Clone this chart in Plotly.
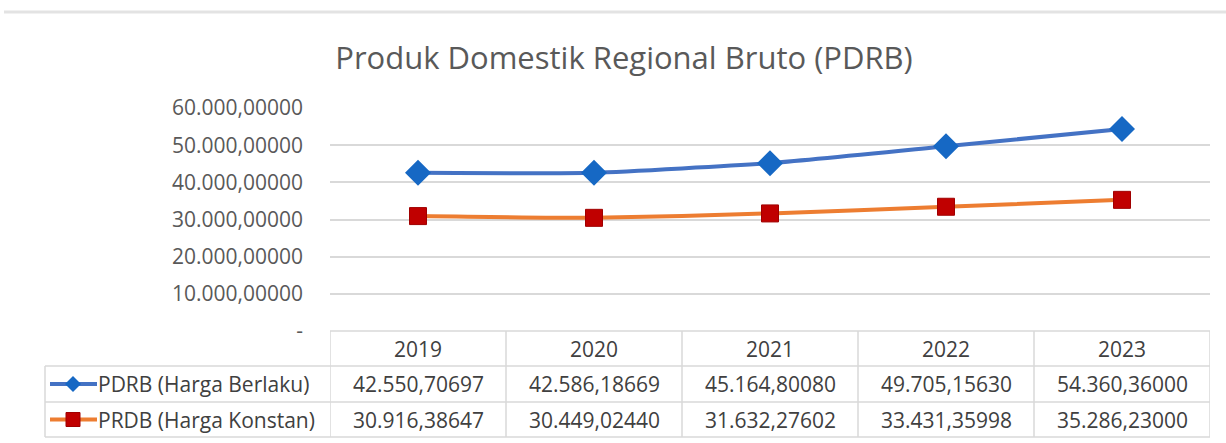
import plotly.graph_objects as go

years = ["2019", "2020", "2021", "2022", "2023"]
berlaku = [42550.70697, 42586.18669, 45164.80080, 49705.15630, 54360.36000]
konstan = [30916.38647, 30449.02440, 31632.27602, 33431.35998, 35286.23000]
series_names = ["PDRB (Harga Berlaku)", "PRDB (Harga Konstan)"]
tick_vals = [0, 10000, 20000, 30000, 40000, 50000, 60000]
tick_text = ["-", "10.000,00000", "20.000,00000", "30.000,00000",
             "40.000,00000", "50.000,00000", "60.000,00000"]
title = "Produk Domestik Regional Bruto (PDRB)"

W, H = 1226, 443
L, R, T, B = 330, 1210, 108, 331
FONT = "Open Sans"
FS = 21
TXT = "#404040"
GRID = "#d9d9d9"
BLUE_LINE, BLUE_MK = "#4472C4", "#1668C4"
ORANGE_LINE, RED_MK = "#ED7D31", "#C00000"


def fmt(v):
    s = f"{v:,.5f}"
    return s.replace(",", "X").replace(".", ",").replace("X", ".")


def py(p):
    return (B - p) / (B - T)


def px(p):
    return (p - L) / (R - L)


xs = list(range(len(years)))
fig = go.Figure()
fig.add_trace(go.Scatter(x=xs, y=berlaku, mode="lines+markers", name=series_names[0],
                         line=dict(color=BLUE_LINE, width=4, shape="spline", smoothing=0.5),
                         marker=dict(symbol="diamond", size=20, color=BLUE_MK)))
fig.add_trace(go.Scatter(x=xs, y=konstan, mode="lines+markers", name=series_names[1],
                         line=dict(color=ORANGE_LINE, width=4, shape="spline", smoothing=0.5),
                         marker=dict(symbol="square", size=17, color=RED_MK,
                                     line=dict(color="#A00000", width=1))))

shapes = []
anns = []
shapes.append(dict(type="line", xref="paper", yref="paper", x0=px(4), x1=px(1226),
                   y0=py(12), y1=py(12), line=dict(color="#e3e3e3", width=3)))

rows = [331, 366, 402, 437]
lc = 45
shapes.append(dict(type="line", xref="x", yref="paper", x0=-0.5, x1=4.5, y0=py(rows[0]), y1=py(rows[0]),
                   line=dict(color=GRID, width=1.5)))
for r in rows[1:]:
    shapes.append(dict(type="line", xref="paper", yref="paper", x0=px(lc), x1=1, y0=py(r), y1=py(r),
                       line=dict(color=GRID, width=1.5)))
for i in range(len(years) + 1):
    shapes.append(dict(type="line", xref="x", yref="paper", x0=i - 0.5, x1=i - 0.5,
                       y0=py(rows[0]), y1=py(rows[3]), line=dict(color=GRID, width=1.5)))
shapes.append(dict(type="line", xref="paper", yref="paper", x0=px(lc), x1=px(lc),
                   y0=py(rows[1]), y1=py(rows[3]), line=dict(color=GRID, width=1.5)))

for i, yv in enumerate(years):
    anns.append(dict(x=i, y=py((rows[0] + rows[1]) / 2), xref="x", yref="paper", text=yv,
                     xanchor="center", yanchor="middle",
                     showarrow=False, font=dict(family=FONT, size=FS, color=TXT)))
for ri, vals in enumerate([berlaku, konstan]):
    yc = py((rows[ri + 1] + rows[ri + 2]) / 2)
    for i, v in enumerate(vals):
        anns.append(dict(x=i, y=yc, xref="x", yref="paper", text=fmt(v),
                         xanchor="center", yanchor="middle",
                         showarrow=False, font=dict(family=FONT, size=FS, color=TXT)))
    anns.append(dict(x=px(96), y=yc, xref="paper", yref="paper", text=series_names[ri],
                     xanchor="left", yanchor="middle", showarrow=False,
                     font=dict(family=FONT, size=FS, color=TXT)))

ky1 = (rows[1] + rows[2]) / 2
ky2 = (rows[2] + rows[3]) / 2
shapes.append(dict(type="line", xref="paper", yref="paper", x0=px(50), x1=px(97), y0=py(ky1), y1=py(ky1),
                   line=dict(color=BLUE_LINE, width=4)))
shapes.append(dict(type="path", xref="paper", yref="paper",
                   path=f"M {px(65)} {py(ky1)} L {px(73)} {py(ky1-8)} L {px(81)} {py(ky1)} L {px(73)} {py(ky1+8)} Z",
                   fillcolor=BLUE_MK, line=dict(color=BLUE_MK, width=0)))
shapes.append(dict(type="line", xref="paper", yref="paper", x0=px(50), x1=px(97), y0=py(ky2), y1=py(ky2),
                   line=dict(color=ORANGE_LINE, width=4)))
shapes.append(dict(type="rect", xref="paper", yref="paper", x0=px(66), x1=px(80), y0=py(ky2 - 7), y1=py(ky2 + 7),
                   fillcolor=RED_MK, line=dict(color="#A00000", width=1)))

fig.update_layout(
    width=W, height=H,
    margin=dict(l=L, r=W - R, t=T, b=H - B),
    paper_bgcolor="white", plot_bgcolor="white",
    showlegend=False,
    title=dict(text=title, xref="container", yref="container", x=624 / W, xanchor="center",
               y=1 - 58 / H, yanchor="middle",
               font=dict(family=FONT, size=31, color="#595959")),
    xaxis=dict(range=[-0.5, 4.5], showticklabels=False, showgrid=False, zeroline=False,
               showline=False, ticks="", fixedrange=True),
    yaxis=dict(range=[0, 60000], tickvals=tick_vals, ticktext=tick_text, showgrid=True,
               gridcolor=GRID, gridwidth=1.5, zeroline=False, showline=False, ticks="",
               ticklabelstandoff=26,
               tickfont=dict(family=FONT, size=FS, color="#595959")),
    shapes=shapes, annotations=anns,
)

fig.write_html("out.html", config={"displayModeBar": False},
               post_script="document.body.style.margin='0px';")
